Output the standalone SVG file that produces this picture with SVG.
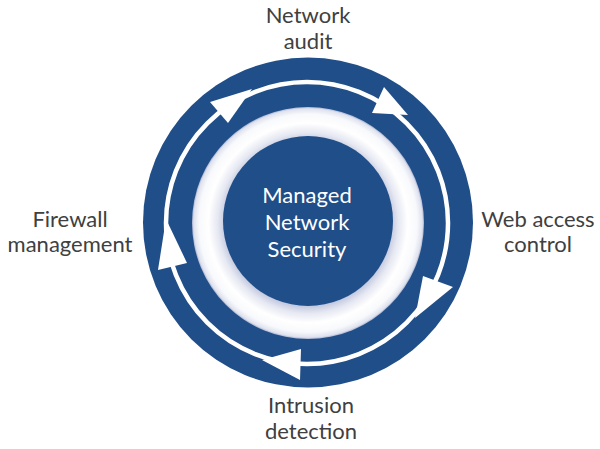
<svg xmlns="http://www.w3.org/2000/svg" width="600" height="449" viewBox="0 0 600 449">
  <defs>
    <radialGradient id="glow" gradientUnits="userSpaceOnUse" cx="308" cy="223" r="116">
      <stop offset="0.72" stop-color="#c4cae0"/>
      <stop offset="0.78" stop-color="#e6e8f2"/>
      <stop offset="0.86" stop-color="#ffffff"/>
      <stop offset="0.94" stop-color="#f8f9fc"/>
      <stop offset="0.985" stop-color="#dfe2ee"/>
      <stop offset="1" stop-color="#a9b3d0"/>
    </radialGradient>
    <style>
      .lbl { font-family: Lato, "Open Sans", "Liberation Sans", sans-serif; font-size: 22px; fill: #404040; text-anchor: middle; }
      .ctr { font-family: Lato, "Open Sans", "Liberation Sans", sans-serif; font-size: 22px; fill: #ffffff; text-anchor: middle; }
      .blue { fill: #1f4e89; }
      .line { fill: none; stroke: #ffffff; stroke-width: 4.5; }
      .head { fill: #ffffff; }
    </style>
  </defs>
  <rect width="600" height="449" fill="#ffffff"/>

  <g id="ring">
    <circle class="blue" cx="308" cy="222.5" r="165"/>
  </g>

  <g id="connectors">
    <circle class="line" cx="307" cy="223" r="141"/>
    <polygon class="head" points="210,102 228,123 252,89"/>
    <polygon class="head" points="384,87 372,113 408,115"/>
    <polygon class="head" points="423,276 453,287 415,318"/>
    <polygon class="head" points="301,349 300,380 262,360"/>
    <polygon class="head" points="158,270 187,263 166,219"/>
  </g>

  <g id="center">
    <circle cx="308" cy="223" r="116" fill="url(#glow)"/>
    <circle class="blue" cx="308" cy="221" r="85"/>
    <text class="ctr" x="307" y="203">Managed</text>
    <text class="ctr" x="307" y="230">Network</text>
    <text class="ctr" x="307" y="257">Security</text>
  </g>

  <g id="network-audit">
    <text class="lbl" x="308" y="23">Network</text>
    <text class="lbl" x="308" y="49">audit</text>
  </g>
  <g id="web-access-control">
    <text class="lbl" x="538" y="227">Web access</text>
    <text class="lbl" x="538" y="252">control</text>
  </g>
  <g id="intrusion-detection">
    <text class="lbl" x="311" y="413">Intrusion</text>
    <text class="lbl" x="311" y="439">detection</text>
  </g>
  <g id="firewall-management">
    <text class="lbl" x="70" y="227">Firewall</text>
    <text class="lbl" x="70" y="252">management</text>
  </g>
</svg>
